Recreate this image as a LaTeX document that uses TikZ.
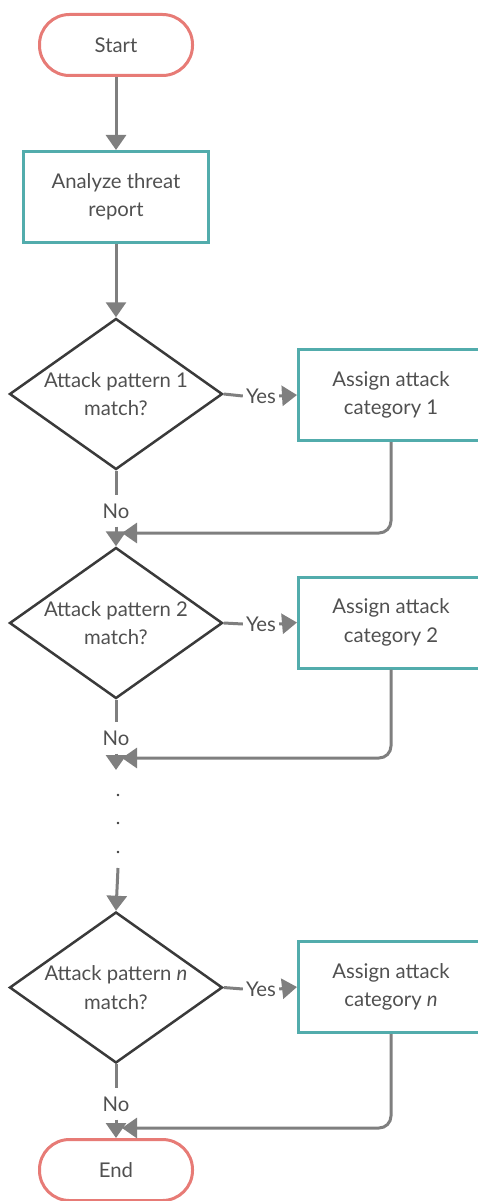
\documentclass[tikz,border=0pt]{standalone}
\usepackage{fontspec}
\setmainfont{Lato}
\usetikzlibrary{arrows.meta,shapes.geometric}
\definecolor{termred}{HTML}{E77B76}
\definecolor{procteal}{HTML}{52ACAC}
\definecolor{flowgray}{HTML}{7F7F7F}
\definecolor{txtgray}{HTML}{505050}
\definecolor{decdark}{HTML}{3A3A3A}
\tikzset{
  every node/.style={text=txtgray, font=\fontsize{20.3}{28.5}\selectfont, align=center},
  terminal/.style={draw=termred, line width=3pt, rounded corners=30pt,
    minimum width=153pt, minimum height=61pt},
  process/.style={draw=procteal, line width=3pt, minimum width=185pt,
    minimum height=91pt},
  decision/.style={draw=decdark, line width=2.5pt, shape=diamond, inner sep=0pt,
    minimum width=213pt, minimum height=151pt},
  flow/.style={draw=flowgray, line width=3pt},
  arrowflow/.style={flow, -{Triangle[width=20pt,length=15pt]}},
  yeslabel/.style={inner xsep=3pt, inner ysep=2pt},
  nolabel/.style={inner xsep=2pt, inner ysep=8pt},
  dot/.style={circle, fill=decdark, inner sep=0pt, minimum size=2.6pt}
}
\begin{document}
\begin{tikzpicture}[x=1pt, y=-1pt]
\useasboundingbox (0,0) rectangle (477,1201);

% start, analysis step
\node[terminal] (start) at (116,45) {Start};
\node[process] (analyze) at (116,197) {Analyze threat\\report};
\draw[arrowflow] (start) -- (analyze);

% pattern 1
\node[decision, label={[align=center]center:Attack pattern 1\\match?}] (d1) at (116,394) {};
\node[process] (a1) at (391,395) {Assign attack\\category 1};
\node[yeslabel] (y1) at (261,396) {Yes};
\draw[flow] (d1.east) -- (y1.west);
\draw[arrowflow] (y1.east) -- (a1.west);
\draw[arrowflow] (analyze) -- (d1.north);

% pattern 2
\node[decision, label={[align=center]center:Attack pattern 2\\match?}] (d2) at (116,623) {};
\node[process] (a2) at (391,622.5) {Assign attack\\category 2};
\node[yeslabel] (y2) at (261,624) {Yes};
\draw[flow] (d2.east) -- (y2.west);
\draw[arrowflow] (y2.east) -- (a2.west);

\node[nolabel] (n1) at (116,511) {No};
\draw[flow] (d1.south) -- (n1.north);
\draw[arrowflow] (n1.south) -- (d2.north);
\coordinate (m1) at (122,533);
\draw[arrowflow, rounded corners=12pt] (a1.south) |- (m1);

% continuation below pattern 2
\node[nolabel] (n2) at (116,738) {No};
\draw[flow] (d2.south) -- (n2.north);
\coordinate (c2) at (116,770);
\draw[arrowflow] (n2.south) -- (c2);
\coordinate (m2) at (122,758);
\draw[arrowflow, rounded corners=12pt] (a2.south) |- (m2);

\node[dot] (e1) at (118,795) {};
\node[dot] (e2) at (118,823) {};
\node[dot] (e3) at (118,852) {};

% pattern n
\node[decision, label={[align=center]center:Attack pattern \textit{n}\\match?}] (d3) at (116,987.5) {};
\node[process] (a3) at (391,987) {Assign attack\\category \textit{n}};
\node[yeslabel] (y3) at (261,989) {Yes};
\draw[flow] (d3.east) -- (y3.west);
\draw[arrowflow] (y3.east) -- (a3.west);
\coordinate (c3) at (118,868);
\draw[arrowflow] (c3) -- (d3.north);

% end
\node[terminal] (end) at (116,1170) {End};
\node[nolabel] (n3) at (116,1104) {No};
\draw[flow] (d3.south) -- (n3.north);
\draw[arrowflow] (n3.south) -- (end.north);
\coordinate (m3) at (122,1128);
\draw[arrowflow, rounded corners=12pt] (a3.south) |- (m3);
\end{tikzpicture}
\end{document}
